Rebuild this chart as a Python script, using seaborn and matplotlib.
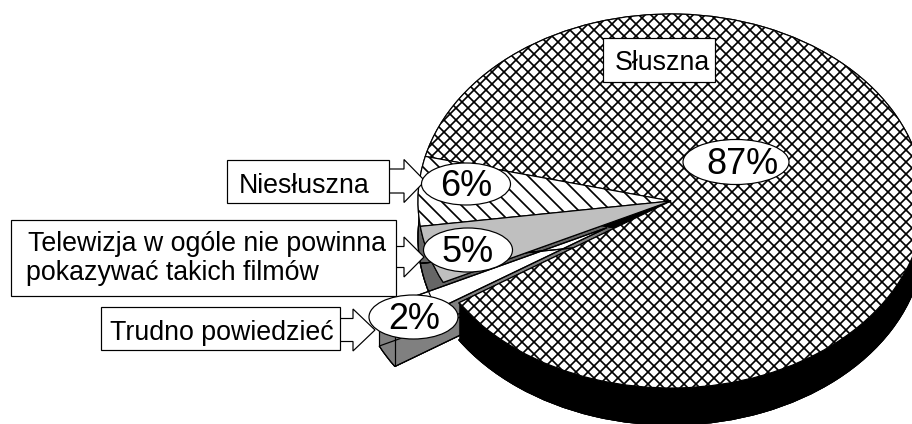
import numpy as np
import matplotlib
matplotlib.use("Agg")
import matplotlib.pyplot as plt
from matplotlib.patches import Ellipse, Rectangle
import seaborn as sns

# Data, starting from the big slice and going counter clockwise
categories = ["Słuszna", "Niesłuszna", "Telewizja", "Trudno powiedzieć"]
values = [87, 6, 5, 2]
explode = [0, 0, 0, 0.29]

# Pie geometry in pixels of the 912x424 picture
W, H, DPI = 912, 424, 144
CX, CY, A, B = 671, 201, 253, 187
DEPTH = 37
START = 213

sns.set_theme(style="white")
plt.rcParams["font.family"] = ["Liberation Sans", "DejaVu Sans"]
plt.rcParams["hatch.linewidth"] = 0.85

grey = sns.color_palette(["#bfbfbf", "#666666", "#808080", "#000000"])
face_grey, side_dark, side_mid, side_black = grey

fig = plt.figure(figsize=(W / DPI, H / DPI), dpi=DPI)
ax = fig.add_axes([0, 0, 1, 1])


def draw_pie(colors, depth=0, hatch=None, edge="none", lw=0.0):
    ax.pie(values, colors=colors, explode=explode, startangle=START,
           center=(0, -depth / B), hatch=hatch,
           wedgeprops=dict(edgecolor=edge, linewidth=lw))


def draw_side(colors):
    # the thick side of the pie is the same slice repeated going downwards
    draw_pie(colors, depth=DEPTH, edge="black", lw=0.6)
    for d in range(DEPTH - 1, 0, -1):
        draw_pie(colors, depth=d)


# Sides of the two grey slices, then the pulled out slice
draw_side(["none", side_dark, side_dark, "none"])
draw_side(["none", "none", "none", side_mid])
draw_pie(["none", "none", "none", "white"], edge="black", lw=0.6)

# corner lines of the pulled out slice
ends = np.cumsum(values)[-2:] / sum(values) * 360 + START
mid = np.radians(ends.mean())
for ang in np.radians(ends):
    x = explode[3] * np.cos(mid) + np.cos(ang)
    y = explode[3] * np.sin(mid) + np.sin(ang)
    ax.plot([x, x], [y, y - DEPTH / B], color="black", lw=0.6)

# Black side of the big slice and the three top faces
draw_side([side_black, "none", "none", "none"])
draw_pie(["white", "white", face_grey, "none"],
         hatch=["xxxx", "\\\\\\", "", ""], edge="black", lw=0.6)

ax.set_aspect("auto")
ax.set_xlim(-CX / A, (W - CX) / A)
ax.set_ylim((CY - H) / B, CY / B)
ax.axis("off")

# Labels are placed in picture pixels on a second axes
ov = fig.add_axes([0, 0, 1, 1], zorder=5)
ov.set_xlim(0, W)
ov.set_ylim(H, 0)
ov.axis("off")
ov.patch.set_alpha(0)

arrows = [
    (389, 181, 36, 24, 43, 21),
    (396, 257, 28, 21, 40, 20),
    (340, 330, 35, 23, 42, 22),
]
for x, y, dx, shaft, head, head_len in arrows:
    ov.arrow(x, y, dx, 0, width=shaft, head_width=head, head_length=head_len,
             length_includes_head=True, fc="white", ec="black", lw=0.6)

boxes = [
    (603, 38, 112, 44),
    (227, 160, 162, 43),
    (11, 220, 385, 76),
    (101, 307, 239, 43),
]
for x, y, w, h in boxes:
    ov.add_patch(Rectangle((x, y), w, h, fc="white", ec="black", lw=0.6))

ov.text(662, 70, "Słuszna", fontsize=13.4, ha="center", va="baseline", color="black")
ov.text(239, 193, "Niesłuszna", fontsize=13.4, ha="left", va="baseline", color="black")
ov.text(28, 251, "Telewizja w ogóle nie powinna", fontsize=13.4, ha="left", va="baseline", color="black")
ov.text(26, 280, "pokazywać takich filmów", fontsize=13.4, ha="left", va="baseline", color="black")
ov.text(110, 340, "Trudno powiedzieć", fontsize=13.4, ha="left", va="baseline", color="black")

bubbles = [
    (736, 162, 106, 45, 742, 174),
    (466, 184, 89, 42, 466, 196),
    (468, 250, 89, 44, 468, 262),
    (413.5, 317, 89, 44, 414, 329),
]
for v, (x, y, w, h, tx, base) in zip(values, bubbles):
    ov.add_patch(Ellipse((x, y), w, h, fc="white", ec="black", lw=0.6))
    ov.text(tx, base, f"{v}%", fontsize=18, ha="center", va="baseline", color="black")

fig.savefig("out.png", dpi=DPI)
